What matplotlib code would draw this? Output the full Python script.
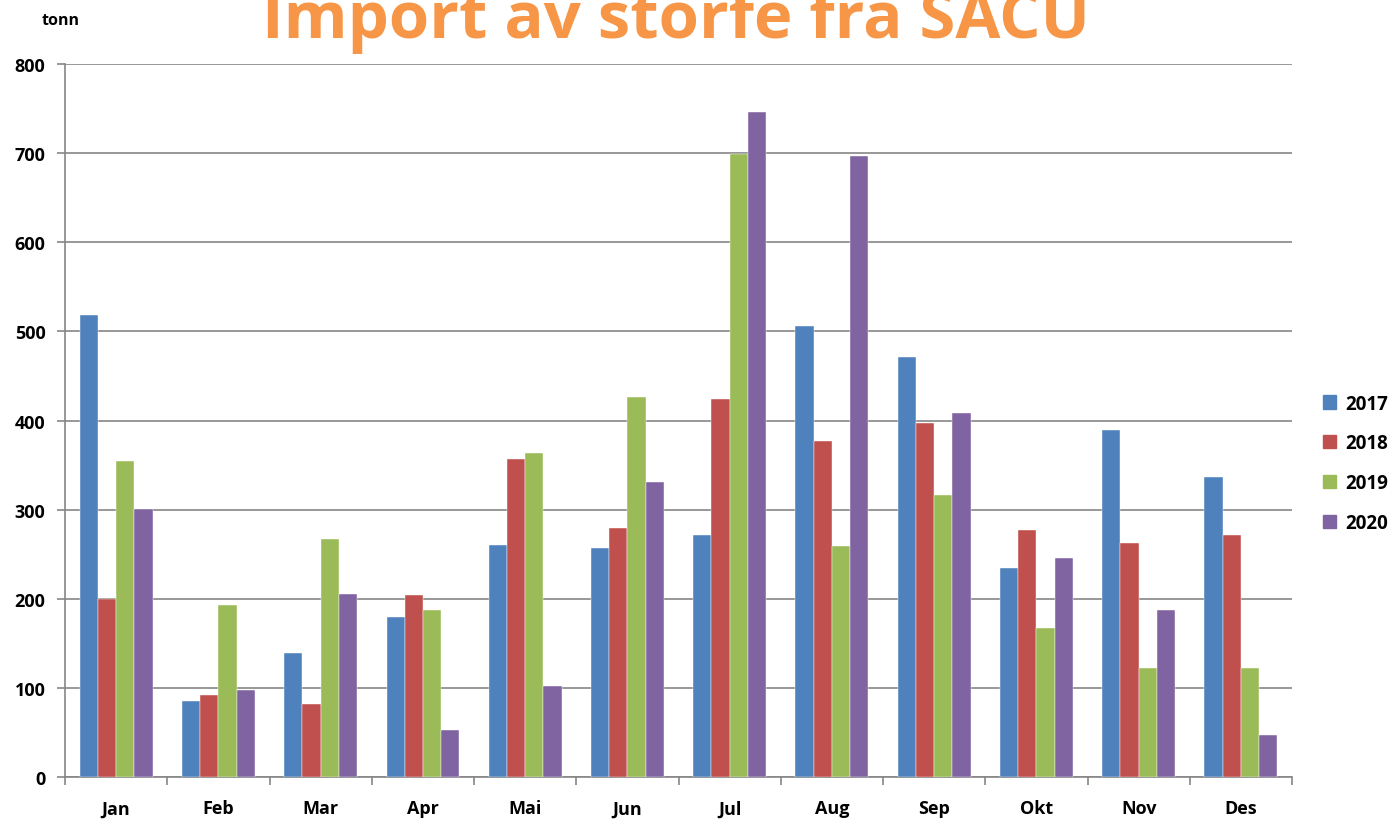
import numpy as np
import matplotlib.pyplot as plt
from matplotlib.patches import Patch

MONTHS = ['Jan', 'Feb', 'Mar', 'Apr', 'Mai', 'Jun', 'Jul', 'Aug', 'Sep', 'Okt', 'Nov', 'Des']
YEARS = ['2017', '2018', '2019', '2020']
V2017 = [518, 85, 139, 180, 260, 257, 272, 506, 471, 235, 389, 337]
V2018 = [200, 92, 82, 204, 357, 279, 424, 377, 397, 277, 263, 272]
V2019 = [355, 193, 267, 187, 364, 426, 699, 259, 316, 167, 122, 122]
V2020 = [301, 98, 205, 53, 102, 331, 746, 697, 408, 246, 187, 47]
COLOURS = ['#4F81BD', '#C0504D', '#9BBB59', '#8064A2']

plt.rcParams['font.family'] = ['Open Sans', 'DejaVu Sans']
plt.rcParams['font.weight'] = 'bold'

fig = plt.figure(figsize=(13.9, 8.2), dpi=100)
ax = fig.add_axes([0.0468, 0.0512, 0.8827, 0.8695])

x = np.arange(len(MONTHS))
bar_w = 0.178
series = [V2017, V2018, V2019, V2020]
for i, vals in enumerate(series):
    ax.bar(x + (i - 1.5) * bar_w, vals, bar_w, color=COLOURS[i], zorder=3,
           edgecolor='white', linewidth=0.3)

ax.set_xlim(-0.5, len(MONTHS) - 0.5)
ax.set_ylim(0, 800)
ax.set_yticks(range(0, 801, 100))
ax.yaxis.grid(True, color='#868686', linewidth=1.2, zorder=0)
ax.set_xticks(x)
ax.set_xticklabels(MONTHS, fontsize=13, fontweight='bold')
ax.set_xticks(np.arange(-0.5, len(MONTHS)), minor=True)
ax.tick_params(axis='x', which='major', length=0, pad=16)
ax.tick_params(axis='x', which='minor', length=6, color='#868686', width=1.2)
ax.tick_params(axis='y', length=6, color='#868686', width=1.2, labelsize=13, pad=8)
for lab in ax.get_yticklabels():
    lab.set_fontweight('bold')
for s in ['top', 'right']:
    ax.spines[s].set_visible(False)
for s in ['left', 'bottom']:
    ax.spines[s].set_color('#868686')
    ax.spines[s].set_linewidth(1.2)

fig.text(0.030, 0.970, 'tonn', fontsize=11.5, fontweight='bold', va='baseline')
# title is cropped at the top edge, as in the original
fig.text(0.486, 0.9537, 'Import av storfe fra SACU', fontsize=47, fontweight='bold',
         color='#F79646', ha='center', va='baseline')

handles = [Patch(color=c, label=y) for c, y in zip(COLOURS, YEARS)]
fig.legend(handles=handles, loc='center left', bbox_to_anchor=(0.952, 0.434),
           frameon=False, handlelength=0.7, handleheight=0.7,
           labelspacing=1.05, handletextpad=0.45, borderaxespad=0, borderpad=0,
           prop={'weight': 'bold', 'size': 13.5})

fig.savefig('out.png', dpi=100)
